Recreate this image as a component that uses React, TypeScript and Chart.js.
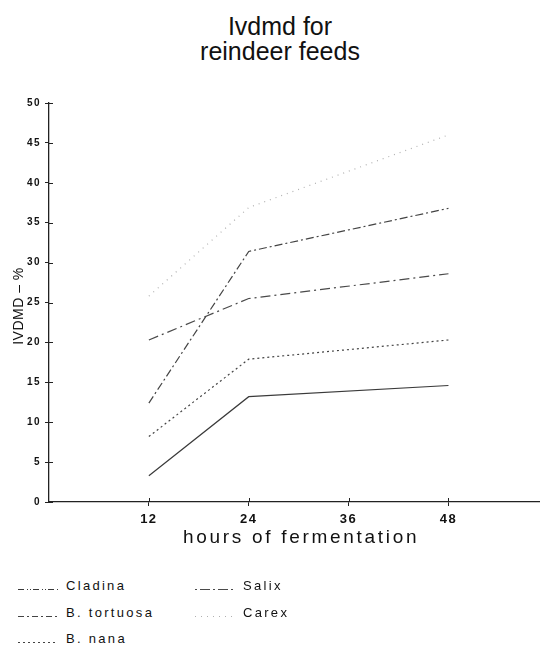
import React, { useEffect, useRef } from "react";
import { Chart, registerables } from "chart.js";

Chart.register(...registerables);

const HOURS = [12, 24, 48];
const X_TICKS = [12, 24, 36, 48];
const Y_TICKS = [0, 5, 10, 15, 20, 25, 30, 35, 40, 45, 50];

const CLADINA = [3.3, 13.2, 14.6];
const B_TORTUOSA = [12.4, 31.4, 36.8];
const B_NANA = [8.2, 17.9, 20.3];
const SALIX = [20.3, 25.5, 28.6];
const CAREX = [25.8, 36.9, 46.0];

const SERIES_NAMES = ["Cladina", "B. tortuosa", "B. nana", "Salix", "Carex"];
const SERIES_VALUES = [CLADINA, B_TORTUOSA, B_NANA, SALIX, CAREX];
const SERIES_COLORS = ["#3a3a3a", "#444444", "#444444", "#4a4a4a", "#b0b0b0"];
const SERIES_DASH: number[][] = [[], [8, 3, 2, 3], [2, 3], [10, 4, 2, 4], [1, 5]];
const LEGEND_DASH: number[][] = [[6, 3, 1, 2, 1, 2], [6, 3, 2, 3], [2, 3], [2, 3, 10, 3], [1, 5]];

const FONT = "'Liberation Sans', Arial, sans-serif";

const crossTicks = {
  id: "crossTicks",
  afterDraw(chart: any) {
    const ctx = chart.ctx;
    const xs = chart.scales.x;
    const ys = chart.scales.y;
    const area = chart.chartArea;
    ctx.save();
    ctx.strokeStyle = "#222";
    ctx.lineWidth = 1;
    ctx.beginPath();
    for (const v of Y_TICKS) {
      const py = Math.round(ys.getPixelForValue(v)) + 0.5;
      ctx.moveTo(area.left, py);
      ctx.lineTo(area.left + 4, py);
    }
    for (const v of X_TICKS) {
      const px = Math.round(xs.getPixelForValue(v)) + 0.5;
      ctx.moveTo(px, area.bottom);
      ctx.lineTo(px, area.bottom - 4);
    }
    ctx.stroke();
    ctx.restore();
  },
  beforeDraw(chart: any) {
    try {
      (chart.ctx as any).letterSpacing = "1.5px";
    } catch (e) {}
  },
};

function LegendItem({ name, idx, x, y }: { name: string; idx: number; x: number; y: number }) {
  return (
    <div style={{ position: "absolute", left: x, top: y, height: 14, display: "flex", alignItems: "flex-end" }}>
      <svg width={44} height={14} style={{ display: "block" }}>
        <line
          x1={0}
          y1={11.5}
          x2={40}
          y2={11.5}
          stroke={SERIES_COLORS[idx]}
          strokeWidth={1.2}
          strokeDasharray={LEGEND_DASH[idx].join(" ")}
        />
      </svg>
      <span
        style={{
          marginLeft: 4,
          font: `13px ${FONT}`,
          lineHeight: "13px",
          letterSpacing: "2.3px",
          color: "#111",
          whiteSpace: "nowrap",
        }}
      >
        {name}
      </span>
    </div>
  );
}

export default function App() {
  const ref = useRef<HTMLCanvasElement | null>(null);

  useEffect(() => {
    if (!ref.current) return;
    const chart = new Chart(ref.current, {
      type: "line",
      data: {
        datasets: SERIES_NAMES.map((name, i) => ({
          label: name,
          data: HOURS.map((h, j) => ({ x: h, y: SERIES_VALUES[i][j] })),
          borderColor: SERIES_COLORS[i],
          borderWidth: 1.2,
          borderDash: SERIES_DASH[i],
          pointRadius: 0,
          fill: false,
          tension: 0,
        })),
      },
      options: {
        animation: false,
        responsive: false,
        layout: { padding: { top: 103, left: 0, right: 0, bottom: 0 } },
        plugins: { legend: { display: false }, title: { display: false }, tooltip: { enabled: false } },
        scales: {
          x: {
            type: "linear",
            min: 0,
            max: 59,
            afterBuildTicks: (s: any) => {
              s.ticks = X_TICKS.map((v) => ({ value: v }));
            },
            afterFit: (s: any) => {
              s.height = 58;
            },
            border: { display: true, color: "#222", width: 1.3 },
            grid: { display: true, drawOnChartArea: false, drawTicks: true, tickLength: 4, color: "#222" },
            ticks: {
              autoSkip: false,
              maxRotation: 0,
              padding: 6,
              color: "#111",
              font: { family: FONT, size: 13, weight: "bold" },
            },
          },
          y: {
            type: "linear",
            min: 0,
            max: 50,
            afterBuildTicks: (s: any) => {
              s.ticks = Y_TICKS.map((v) => ({ value: v }));
            },
            afterFit: (s: any) => {
              s.width = 49;
            },
            border: { display: true, color: "#222", width: 1.3 },
            grid: { display: true, drawOnChartArea: false, drawTicks: true, tickLength: 4, color: "#222" },
            ticks: {
              autoSkip: false,
              padding: 4,
              color: "#111",
              font: { family: FONT, size: 10, weight: "bold" },
            },
          },
        },
      },
      plugins: [crossTicks],
    } as any);
    return () => chart.destroy();
  }, []);

  return (
    <div style={{ position: "absolute", left: 0, top: 0, width: 540, height: 653, overflow: "hidden", background: "#fff" }}>
      <div
        style={{
          position: "absolute",
          left: 130,
          width: 300,
          top: 14,
          textAlign: "center",
          font: `25px ${FONT}`,
          lineHeight: "25px",
          color: "#111",
        }}
      >
        Ivdmd for
        <br />
        reindeer feeds
      </div>
      <canvas ref={ref} width={540} height={560} style={{ position: "absolute", left: 0, top: 0, display: "block" }} />
      <div
        style={{
          position: "absolute",
          left: 183,
          top: 527,
          font: `19px ${FONT}`,
          lineHeight: "19px",
          letterSpacing: "2.7px",
          color: "#111",
          whiteSpace: "nowrap",
        }}
      >
        hours of fermentation
      </div>
      <div
        style={{
          position: "absolute",
          left: 18 - 50,
          top: 306 - 8,
          width: 100,
          textAlign: "center",
          transform: "rotate(-90deg)",
          font: `14px ${FONT}`,
          lineHeight: "16px",
          letterSpacing: "0.5px",
          color: "#111",
          whiteSpace: "nowrap",
        }}
      >
        IVDMD – %
      </div>
      <LegendItem name={SERIES_NAMES[0]} idx={0} x={18} y={578} />
      <LegendItem name={SERIES_NAMES[1]} idx={1} x={18} y={605} />
      <LegendItem name={SERIES_NAMES[2]} idx={2} x={18} y={631} />
      <LegendItem name={SERIES_NAMES[3]} idx={3} x={195} y={578} />
      <LegendItem name={SERIES_NAMES[4]} idx={4} x={195} y={605} />
    </div>
  );
}
